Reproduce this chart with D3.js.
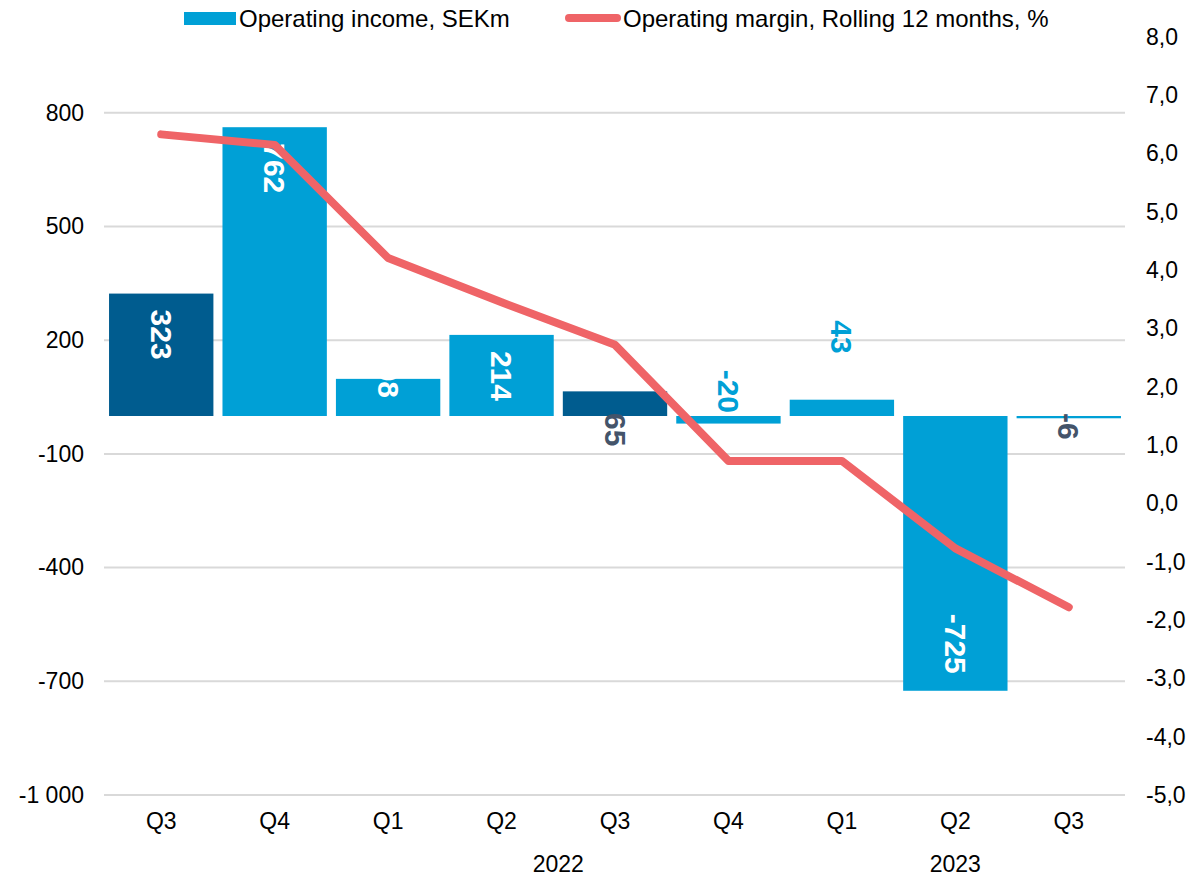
<!DOCTYPE html>
<html>
<head>
    <meta charset="utf-8">
    <title>Operating income and margin</title>
    <style>
        body {
            margin: 0;
            font-family: "Liberation Sans", Arial, sans-serif;
            background: #ffffff;
        }
        svg {
            display: block;
        }
        .grid line {
            stroke: #d9d9d9;
            stroke-width: 2px;
        }
        .axis text {
            font-size: 23px;
            fill: #000000;
        }
        .axis path, .axis line {
            display: none;
        }
        .legend text {
            font-size: 24px;
        }
        .label {
            font-size: 30px;
            font-weight: bold;
        }
    </style>
    <script src="https://cdn.jsdelivr.net/npm/d3@7"></script>
</head>
<body>
<script>
    // data
    const quarters = ["Q3", "Q4", "Q1", "Q2", "Q3", "Q4", "Q1", "Q2", "Q3"];
    const years = ["2022", "2023"];
    const yearSpans = [[2, 5], [6, 8]];   // first and last quarter index under each year
    const income = [323, 762, 98, 214, 65, -20, 43, -725, -6];
    const margin = [6.33, 6.15, 4.21, 3.45, 2.72, 0.73, 0.73, -0.77, -1.78];
    const leftTicks = [-1000, -700, -400, -100, 200, 500, 800];
    const rightTicks = [-5, -4, -3, -2, -1, 0, 1, 2, 3, 4, 5, 6, 7, 8];

    const width = 1191,
        height = 877;

    const lightBlue = "#00a0d6",
        darkBlue = "#005c8f",
        red = "#ef6467",
        slate = "#44546a";

    // which bars are dark, and how each value label sits
    const darkBars = [0, 4];
    const labelMode = ["in", "in", "base", "in", "below", "above", "over", "in", "below"];

    const locale = d3.formatLocale({
        decimal: ",",
        thousands: " ",
        grouping: [3],
        currency: ["", ""],
        minus: "-"
    });

    const svg = d3.select("body").append("svg")
        .attr("width", width)
        .attr("height", height);

    const x = d3.scaleBand()
        .domain(d3.range(quarters.length))
        .range([104.5, 1125.5])
        .paddingInner(0.08)
        .paddingOuter(0.04);

    const yL = d3.scaleLinear().domain([-1000, 1000]).range([795, 37]);
    const yR = d3.scaleLinear().domain([-5, 8]).range([795, 37]);

    // gridlines
    svg.append("g")
        .attr("class", "grid")
        .selectAll("line")
        .data(leftTicks)
        .enter().append("line")
        .attr("x1", 104)
        .attr("x2", 1125)
        .attr("y1", d => yL(d))
        .attr("y2", d => yL(d));

    // axes
    svg.append("g")
        .attr("class", "axis")
        .attr("transform", "translate(104,0)")
        .call(d3.axisLeft(yL)
            .tickValues(leftTicks)
            .tickSize(0)
            .tickPadding(20)
            .tickFormat(locale.format(",d")));

    svg.append("g")
        .attr("class", "axis")
        .attr("transform", "translate(1125,0)")
        .call(d3.axisRight(yR)
            .tickValues(rightTicks)
            .tickSize(0)
            .tickPadding(21)
            .tickFormat(locale.format(".1f")));

    svg.append("g")
        .attr("class", "axis")
        .attr("transform", "translate(0,795)")
        .call(d3.axisBottom(x)
            .tickSize(0)
            .tickPadding(18)
            .tickFormat(i => quarters[i]));

    svg.append("g")
        .attr("class", "axis")
        .selectAll("text")
        .data(years)
        .enter().append("text")
        .attr("x", (d, i) => (x(yearSpans[i][0]) + x(yearSpans[i][1]) + x.bandwidth()) / 2)
        .attr("y", 872)
        .attr("text-anchor", "middle")
        .text(d => d);

    // bars
    const zero = yL(0);
    svg.append("g")
        .selectAll("rect")
        .data(income)
        .enter().append("rect")
        .attr("x", (d, i) => x(i))
        .attr("width", x.bandwidth())
        .attr("y", d => yL(Math.max(0, d)))
        .attr("height", d => Math.max(2, Math.abs(yL(d) - zero)))
        .attr("fill", (d, i) => darkBars.includes(i) ? darkBlue : lightBlue);

    // value labels, rotated to read downwards
    function labelPlace(d, i) {
        const top = yL(Math.max(0, d)), bottom = yL(Math.min(0, d));
        switch (labelMode[i]) {
            case "in":
                return d >= 0 ? {y: top + 16, anchor: "start", color: "#ffffff"}
                              : {y: bottom - 17, anchor: "end", color: "#ffffff"};
            case "base":
                return {y: zero - 18, anchor: "end", color: "#ffffff"};
            case "below":
                return {y: zero - 3, anchor: "start", color: slate};
            case "above":
                return {y: zero - 3, anchor: "end", color: lightBlue};
            default:
                return {y: top - 46, anchor: "end", color: lightBlue};
        }
    }

    svg.append("g")
        .selectAll("text")
        .data(income)
        .enter().append("text")
        .attr("class", "label")
        .each(function(d, i) {
            const p = labelPlace(d, i);
            const cx = x(i) + x.bandwidth() / 2;
            d3.select(this)
                .attr("transform", "translate(" + cx + "," + p.y + ") rotate(90)")
                .attr("dy", "0.35em")
                .attr("text-anchor", p.anchor)
                .attr("fill", p.color)
                .text(d);
        });

    // margin line
    const line = d3.line()
        .x((d, i) => x(i) + x.bandwidth() / 2)
        .y(d => yR(d));

    svg.append("path")
        .datum(margin)
        .attr("d", line)
        .attr("fill", "none")
        .attr("stroke", red)
        .attr("stroke-width", 8)
        .attr("stroke-linejoin", "round")
        .attr("stroke-linecap", "round");

    // legend
    const legend = svg.append("g").attr("class", "legend");
    legend.append("rect")
        .attr("x", 184).attr("y", 12)
        .attr("width", 52).attr("height", 13)
        .attr("fill", lightBlue);
    legend.append("text")
        .attr("x", 239).attr("y", 27)
        .text("Operating income, SEKm");
    legend.append("line")
        .attr("x1", 569).attr("x2", 617)
        .attr("y1", 18).attr("y2", 18)
        .attr("stroke", red)
        .attr("stroke-width", 8)
        .attr("stroke-linecap", "round");
    legend.append("text")
        .attr("x", 623).attr("y", 27)
        .text("Operating margin, Rolling 12 months, %");
</script>
</body>
</html>
